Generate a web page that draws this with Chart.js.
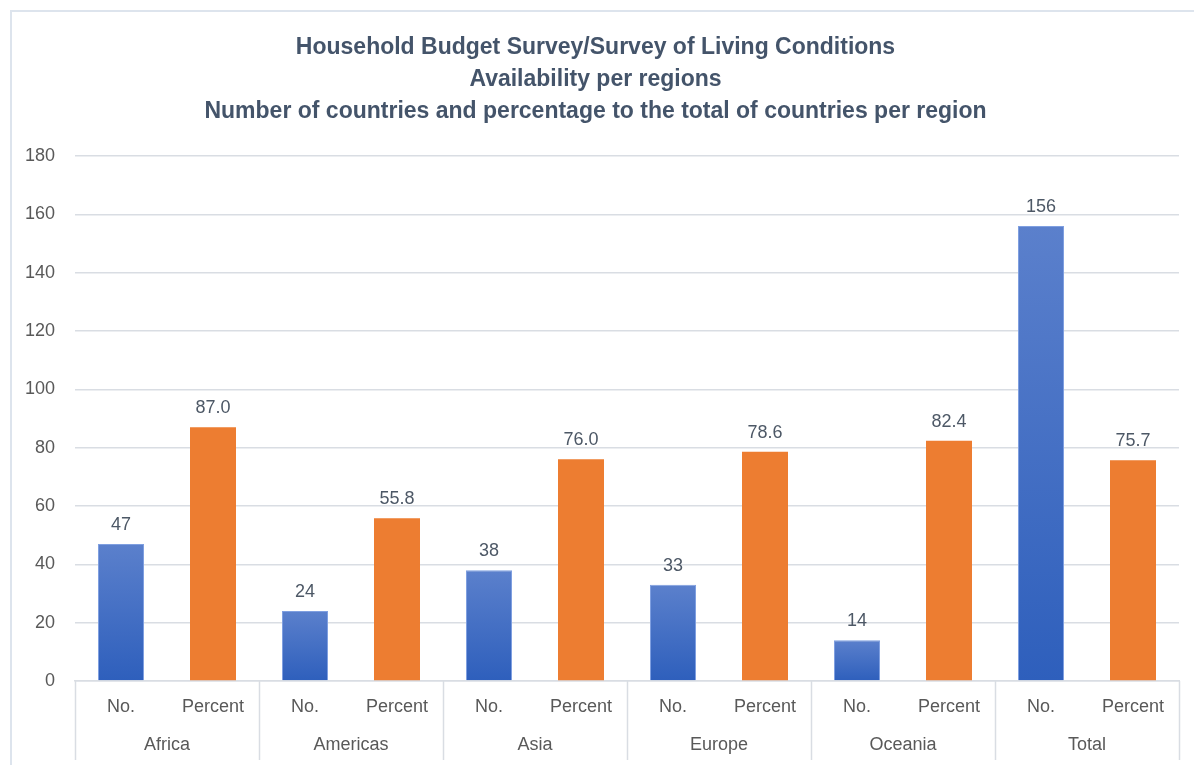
<!DOCTYPE html>
<html>
<head>
<meta charset="utf-8">
<script src="https://cdn.jsdelivr.net/npm/chart.js@4.4.1/dist/chart.umd.min.js"></script>
<style>
  html, body { margin: 0; padding: 0; background: #fff; }
  #wrap { position: absolute; left: 10px; top: 10px; width: 1194px; height: 755px;
          border-left: 2px solid #dde4ed; border-top: 2px solid #dde4ed; box-sizing: border-box; }
  canvas { display: block; }
</style>
</head>
<body>
<div id="wrap"><canvas id="chartHbs"></canvas></div>
<script>
const regions = ["Africa", "Americas", "Asia", "Europe", "Oceania", "Total"];
const subLabels = ["No.", "Percent"];
const numCountries = [47, 24, 38, 33, 14, 156];
const pctCountries = [87.0, 55.8, 76.0, 78.6, 82.4, 75.7];
const yTicks = [0, 20, 40, 60, 80, 100, 120, 140, 160, 180];

const textColor = "#595959";
const gridColor = "#d9dde3";
const fontFam = "'Liberation Sans', Arial, sans-serif";

// interleave No./Percent per region
const labels = [];
const valores = [];
const textos = [];
regions.forEach((r, i) => {
  labels.push(subLabels[0], subLabels[1]);
  valores.push(numCountries[i], pctCountries[i]);
  textos.push(String(numCountries[i]), pctCountries[i].toFixed(1));
});

// blue bars get a gradient of their own, orange ones are flat
function barColor(c) {
  if (c.dataIndex % 2 === 1) return "#ed7d31";
  const y = c.chart.scales.y;
  if (!y || c.raw == null) return "#4472c4";
  const top = y.getPixelForValue(c.raw);
  const base = y.getPixelForValue(0);
  if (!isFinite(top) || !isFinite(base) || top === base) return "#4472c4";
  const g = c.chart.ctx.createLinearGradient(0, top, 0, base);
  g.addColorStop(0, "#5b80cc");
  g.addColorStop(1, "#2e5fbc");
  return g;
}

// value labels above bars
const valueLabels = {
  id: "valueLabels",
  afterDatasetsDraw(chart) {
    const ctx = chart.ctx;
    ctx.save();
    ctx.font = "18px " + fontFam;
    ctx.fillStyle = "#4d5866";
    ctx.textAlign = "center";
    ctx.textBaseline = "bottom";
    chart.getDatasetMeta(0).data.forEach((bar, i) => {
      ctx.fillText(textos[i], bar.x, bar.y - 10);
    });
    ctx.restore();
  }
};

// vertical separators between regions, below the plot
const groupLines = {
  id: "groupLines",
  afterDraw(chart) {
    const x2 = chart.scales.x2;
    const ctx = chart.ctx;
    const step = x2.width / regions.length;
    ctx.save();
    ctx.strokeStyle = gridColor;
    ctx.lineWidth = 1.5;
    for (let i = 0; i <= regions.length; i++) {
      const x = Math.round(x2.left + i * step) + 0.5;
      ctx.beginPath();
      ctx.moveTo(x, chart.chartArea.bottom);
      ctx.lineTo(x, chart.height - 5);
      ctx.stroke();
    }
    ctx.restore();
  }
};

const canvas = document.getElementById("chartHbs");
canvas.width = 1182;
canvas.height = 753;

new Chart(canvas, {
  type: "bar",
  data: {
    labels,
    datasets: [{
      data: valores,
      backgroundColor: barColor,
      borderColor: c => c.dataIndex % 2 === 0 ? "#7f9fe0" : "#ed7d31",
      borderWidth: c => c.dataIndex % 2 === 0 ? 1 : 0,
      categoryPercentage: 1,
      barPercentage: 0.5
    }]
  },
  options: {
    responsive: false,
    animation: false,
    layout: { padding: { left: 0, right: 15, top: 8, bottom: 6 } },
    plugins: {
      legend: { display: false },
      tooltip: { enabled: false },
      title: {
        display: true,
        text: [
          "Household Budget Survey/Survey of Living Conditions",
          "Availability per regions",
          "Number of countries and percentage to the total of countries per region"
        ],
        color: "#44546a",
        font: { family: fontFam, size: 23, weight: "bold", lineHeight: 1.39 },
        padding: { top: 12, bottom: 28 }
      }
    },
    scales: {
      x: {
        grid: { display: false, drawTicks: false },
        border: { display: true, color: gridColor, width: 1.5 },
        afterFit: axis => { axis.height = 37; },
        ticks: {
          color: textColor,
          font: { family: fontFam, size: 18 },
          padding: 15,
          maxRotation: 0,
          autoSkip: false
        }
      },
      x2: {
        type: "category",
        labels: regions,
        position: "bottom",
        grid: { display: false, drawTicks: false },
        border: { display: false },
        afterFit: axis => { axis.height = 41; },
        ticks: {
          color: textColor,
          font: { family: fontFam, size: 18 },
          padding: 16,
          maxRotation: 0
        }
      },
      y: {
        min: yTicks[0],
        max: yTicks[yTicks.length - 1],
        afterBuildTicks: axis => { axis.ticks = yTicks.map(v => ({ value: v })); },
        afterFit: axis => { axis.width = 63; },
        grid: { color: gridColor, lineWidth: 1.5, drawTicks: false },
        border: { display: false },
        ticks: {
          color: textColor,
          font: { family: fontFam, size: 18 },
          padding: 20
        }
      }
    }
  },
  plugins: [valueLabels, groupLines]
});
</script>
</body>
</html>
